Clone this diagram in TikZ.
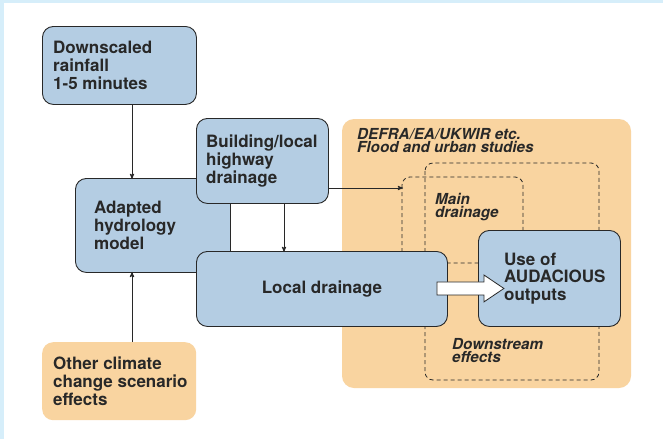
\documentclass[tikz,border=0pt]{standalone}
\usepackage{fontspec}
\setmainfont{TeX Gyre Heros}
\usetikzlibrary{arrows,positioning}

\definecolor{boxblue}{RGB}{180,205,227}
\definecolor{sandorange}{RGB}{249,212,160}
\definecolor{paleblue}{RGB}{214,238,250}
\definecolor{inkgrey}{RGB}{40,40,40}

\begin{document}
\begin{tikzpicture}[x=1pt,y=-1pt,
  bluebox/.style={draw=inkgrey,line width=0.9pt,fill=boxblue,rounded corners=11pt,anchor=north west,inner sep=0pt},
  orangebox/.style={fill=sandorange,rounded corners=11pt,anchor=north west,inner sep=0pt},
  boxtext/.style={align=left,inner sep=0pt,text=inkgrey,font=\bfseries\fontsize{17}{17.6}\selectfont,anchor=west},
  studytext/.style={align=left,inner sep=0pt,text=inkgrey,font=\bfseries\itshape\fontsize{15.2}{13.2}\selectfont,anchor=north west},
  zone/.style={draw=inkgrey,line width=0.8pt,dash pattern=on 4pt off 3pt,rounded corners=8pt},
  flow/.style={draw=inkgrey,line width=0.9pt,->,>=stealth',shorten >=-1pt}]

\useasboundingbox (0,0) rectangle (663,439);
\fill[paleblue] (0,0) rectangle (663,439);
\fill[white] (4,3) rectangle (663,439);

% studies area
\fill[sandorange,rounded corners=12pt] (342,119) rectangle (631,388);
\draw[zone] (425,163) rectangle (599,380);
\draw[zone] (402,177) rectangle (523,263);

\node[studytext] (defra) at (357,128) {DEFRA/EA/UKWIR etc.\\Flood and urban studies};
\node[studytext] (maindr) at (435,193) {Main\\drainage};
\node[studytext] (downstr) at (452,338) {Downstream\\effects};

% boxes
\node[bluebox,minimum width=154pt,minimum height=78pt] (rain) at (42,26) {};
\node[boxtext] (rain-t) at ([xshift=11pt]rain.west) {Downscaled\\rainfall\\1-5 minutes};

\node[bluebox,minimum width=155pt,minimum height=94pt] (hydro) at (75,178) {};
\node[boxtext] (hydro-t) at ([xshift=19pt]hydro.west) {Adapted\\hydrology\\model};

\node[bluebox,minimum width=132pt,minimum height=85pt] (build) at (196,118) {};
\node[boxtext] (build-t) at ([xshift=10pt]build.west) {Building/local\\highway\\drainage};

\node[bluebox,minimum width=251pt,minimum height=75pt] (local) at (196,251) {};
\node[boxtext,anchor=center] (local-t) at (local.center) {Local drainage};

\node[bluebox,minimum width=142pt,minimum height=96pt] (audac) at (478,230) {};
\node[boxtext] (audac-t) at ([xshift=26pt]audac.west) {Use of\\AUDACIOUS\\outputs};

\node[orangebox,minimum width=154pt,minimum height=78pt] (other) at (42,342) {};
\node[boxtext] (other-t) at ([xshift=11pt]other.west) {Other climate\\change scenario\\effects};

% connectors
\coordinate (rainx) at (132,0);
\coordinate (buildx) at (284,0);
\coordinate (mainin) at (402,188);
\draw[flow] (rain.south -| rainx) -- (hydro.north -| rainx);
\draw[flow] (other.north -| rainx) -- (hydro.south -| rainx);
\draw[flow] (build.south -| buildx) -- (local.north -| buildx);
\draw[flow] (build.east |- mainin) -- (mainin);

% big arrow
\coordinate (tail) at ([xshift=-11pt]local.east);
\draw[draw=inkgrey,line width=0.8pt,fill=white] (tail) ++(0,-7) -- ++(47,0) -- ++(0,-7) -- ++(20,13.5) -- ++(-20,13.5) -- ++(0,-7) -- ++(-47,0) -- cycle;

\end{tikzpicture}
\end{document}
